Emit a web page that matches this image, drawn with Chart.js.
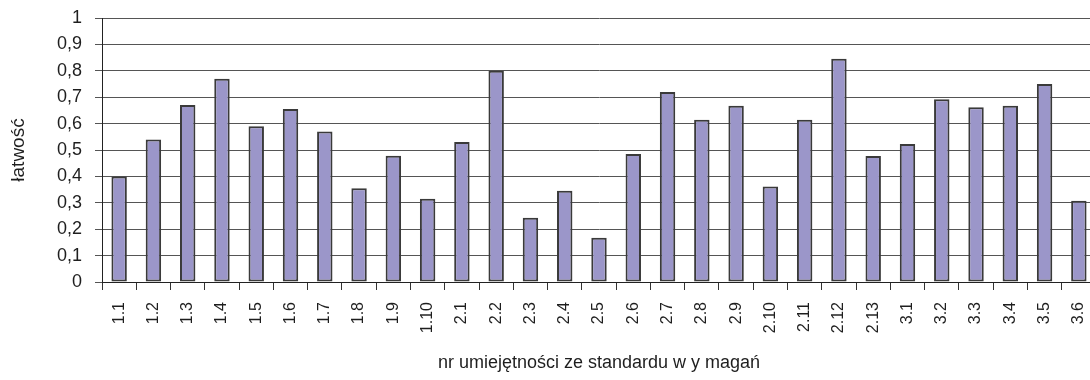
<!DOCTYPE html>
<html lang="pl">
<head>
<meta charset="utf-8">
<title>Łatwość umiejętności</title>
<script src="https://cdn.jsdelivr.net/npm/chart.js@4/dist/chart.umd.min.js"></script>
<style>
  html, body { margin: 0; padding: 0; background: #fff; overflow: hidden; }
  #wrap { width: 1090px; height: 380px; overflow: hidden; }
  canvas { display: block; }
</style>
</head>
<body>
<div id="wrap"><canvas id="chart" width="1097" height="380"></canvas></div>
<script>
// Numery umiejętności ze standardu wymagań
const categories = [
  '1.1', '1.2', '1.3', '1.4', '1.5', '1.6', '1.7', '1.8', '1.9', '1.10',
  '2.1', '2.2', '2.3', '2.4', '2.5', '2.6', '2.7', '2.8', '2.9', '2.10',
  '2.11', '2.12', '2.13',
  '3.1', '3.2', '3.3', '3.4', '3.5', '3.6'
];

// Współczynnik łatwości dla każdej umiejętności
const easiness = [
  0.40, 0.54, 0.67, 0.77, 0.59, 0.655, 0.57, 0.355, 0.478, 0.315,
  0.53, 0.80, 0.243, 0.346, 0.168, 0.485, 0.72, 0.615, 0.668, 0.362,
  0.615, 0.846, 0.477,
  0.523, 0.692, 0.662, 0.668, 0.75, 0.308
];

// Skala osi pionowej
const yMin = 0;
const yMax = 1;
const yStep = 0.1;

const xTitle = 'nr umiejętności ze standardu w y magań';
const yTitle = 'łatwość';

const FONT = "'Liberation Sans', Arial, sans-serif";
const TEXT = '#1e1e1e';

new Chart(document.getElementById('chart'), {
  type: 'bar',
  data: {
    labels: categories,
    datasets: [{
      data: easiness,
      backgroundColor: '#9b96c9',
      borderColor: '#3a3a3a',
      borderWidth: 2,
      borderSkipped: false,
      categoryPercentage: 1,
      barPercentage: 0.45
    }]
  },
  options: {
    responsive: false,
    animation: false,
    events: [],
    layout: { padding: { top: 18, right: 1, left: 0, bottom: 0 } },
    plugins: {
      legend: { display: false },
      tooltip: { enabled: false }
    },
    scales: {
      x: {
        grid: {
          display: true,
          drawOnChartArea: false,
          drawTicks: true,
          tickLength: 8,
          offset: true,
          color: '#333',
          lineWidth: 1
        },
        border: { color: '#222', width: 1 },
        ticks: {
          autoSkip: false,
          minRotation: 90,
          maxRotation: 90,
          padding: 12,
          color: TEXT,
          font: { family: FONT, size: 16 }
        },
        title: {
          display: true,
          text: xTitle,
          color: TEXT,
          font: { family: FONT, size: 18 },
          padding: { top: 0, bottom: 6 }
        },
        afterFit(scale) {
          scale.height = 98;
          scale.paddingLeft = 0;
          scale.paddingRight = 0;
        }
      },
      y: {
        min: yMin,
        max: yMax,
        grid: {
          color: '#555',
          lineWidth: 1,
          drawTicks: true,
          tickLength: 7
        },
        border: { color: '#222', width: 1 },
        ticks: {
          stepSize: yStep,
          padding: 13,
          color: TEXT,
          font: { family: FONT, size: 18 },
          callback: (v) => String(Math.round(v * 10) / 10).replace('.', ',')
        },
        title: {
          display: true,
          text: yTitle,
          color: TEXT,
          font: { family: FONT, size: 19 },
          padding: { top: 7, bottom: 0 }
        },
        afterFit(scale) {
          scale.width = 102;
          scale.paddingTop = 0;
          scale.paddingBottom = 0;
        }
      }
    }
  }
});
</script>
</body>
</html>
